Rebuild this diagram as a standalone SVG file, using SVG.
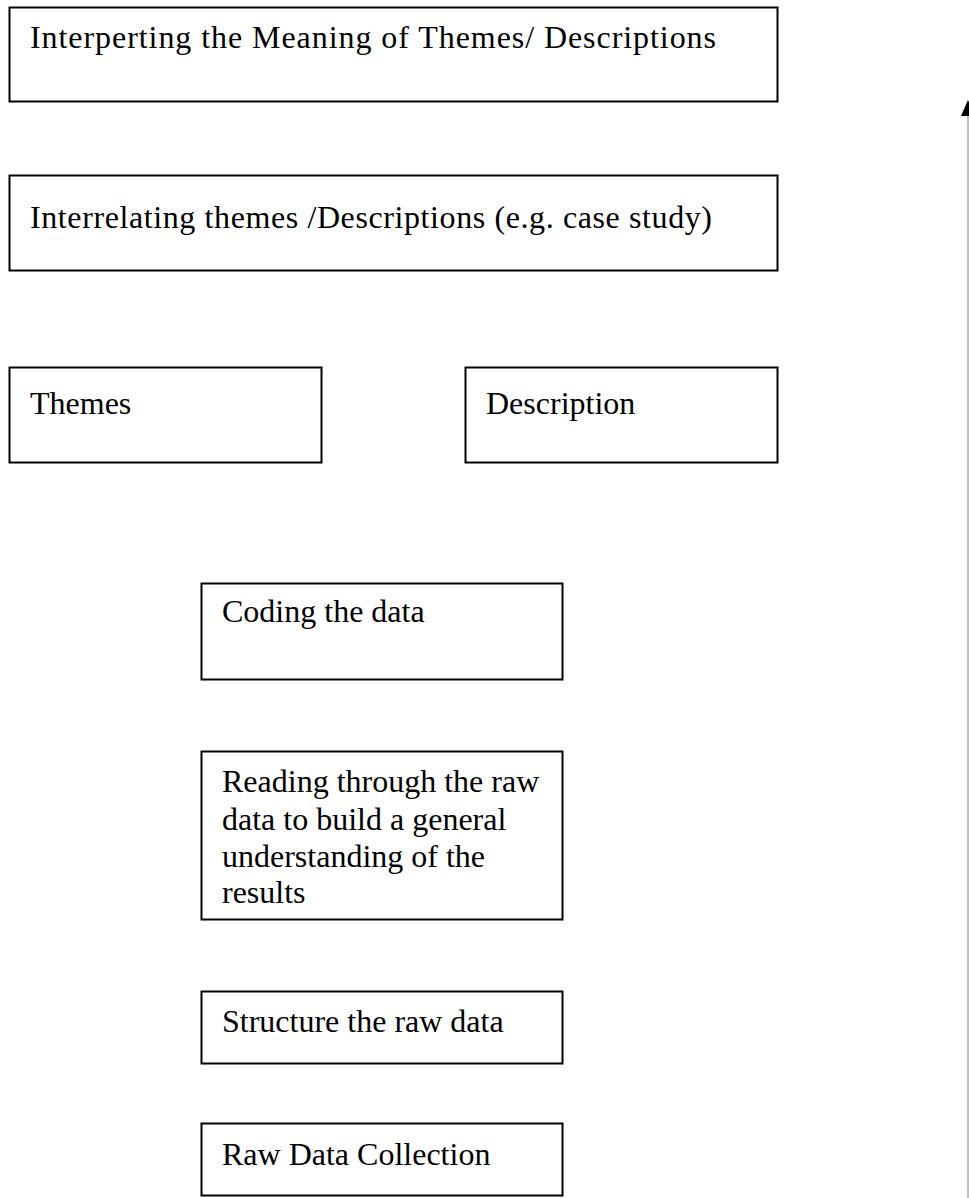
<svg xmlns="http://www.w3.org/2000/svg" width="969" height="1198" viewBox="0 0 969 1198">
<style>
.box{fill:#fff;stroke:#000;stroke-width:2}
.t{font-family:"Liberation Serif","Times New Roman",serif;font-size:32px;fill:#000}
.conn{stroke:#c0c0c0;stroke-width:2;fill:none}
</style>
<rect width="969" height="1198" fill="#fff"/>
<g id="connectors">
<line class="conn" x1="968" y1="1198" x2="968" y2="112"/>
<polygon points="968,100 961,116 975,116" fill="#000"/>
</g>
<g id="n1"><rect class="box" x="9.5" y="7.5" width="768" height="94"/><text class="t" x="30" y="48" textLength="686" lengthAdjust="spacing">Interperting the Meaning of Themes/ Descriptions</text></g>
<g id="n2"><rect class="box" x="9.5" y="175.5" width="768" height="95"/><text class="t" x="30" y="228" textLength="682" lengthAdjust="spacing">Interrelating themes /Descriptions (e.g. case study)</text></g>
<g id="n3"><rect class="box" x="9.5" y="367.5" width="312" height="95"/><text class="t" x="30" y="414">Themes</text></g>
<g id="n4"><rect class="box" x="465.5" y="367.5" width="312" height="95"/><text class="t" x="486" y="414">Description</text></g>
<g id="n5"><rect class="box" x="201.5" y="583.5" width="361" height="96"/><text class="t" x="222" y="622">Coding the data</text></g>
<g id="n6"><rect class="box" x="201.5" y="751.5" width="361" height="168"/><text class="t" x="222" y="792">Reading through the raw<tspan x="222" dy="37.5">data to build a general</tspan><tspan x="222" dy="37.5">understanding of the</tspan><tspan x="222" dy="36">results</tspan></text></g>
<g id="n7"><rect class="box" x="201.5" y="991.5" width="361" height="72"/><text class="t" x="222" y="1032">Structure the raw data</text></g>
<g id="n8"><rect class="box" x="201.5" y="1123.5" width="361" height="72"/><text class="t" x="222" y="1165">Raw Data Collection</text></g>
</svg>
